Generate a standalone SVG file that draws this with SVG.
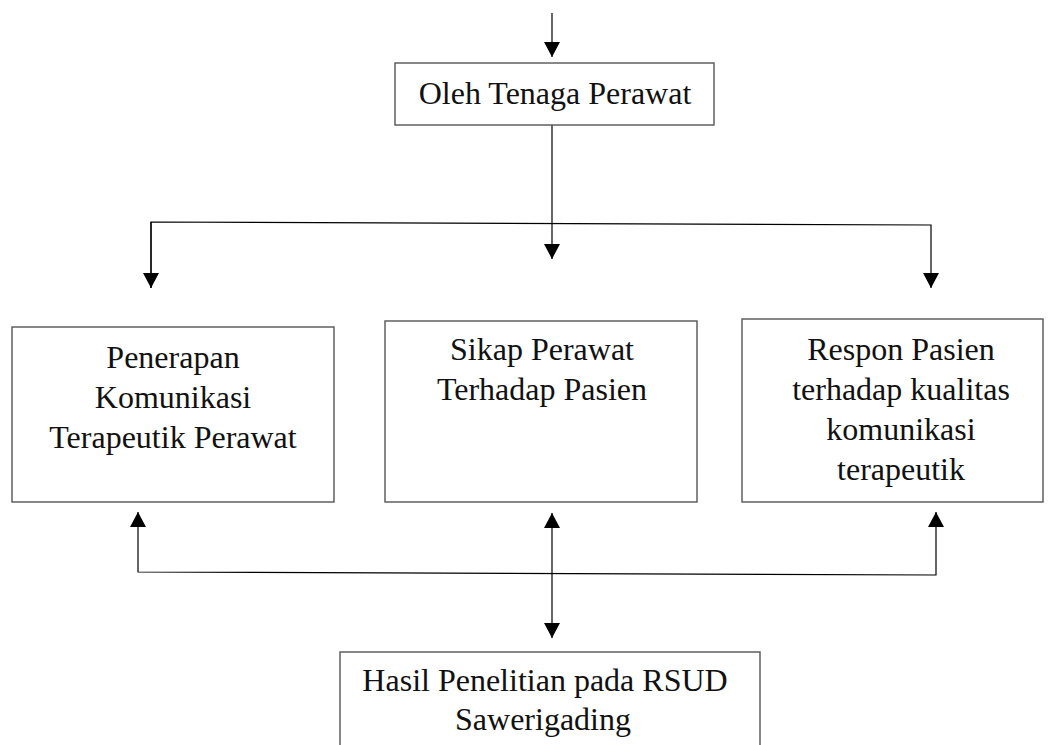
<svg xmlns="http://www.w3.org/2000/svg" width="1056" height="745" viewBox="0 0 1056 745">
<defs>
<marker id="ah" viewBox="0 0 15 16" refX="15" refY="8" markerWidth="15" markerHeight="16" markerUnits="userSpaceOnUse" orient="auto-start-reverse">
<path d="M0,0 L15,8 L0,16 Z" fill="#000"/>
</marker>
<style>
.box{fill:#fff;stroke:#555;stroke-width:1.4}
.t{font-family:"Liberation Serif","Times New Roman",serif;font-size:32px;fill:#111;text-anchor:middle}
.c{fill:none;stroke:#000;stroke-width:1.2}
.a{marker-end:url(#ah)}
.ab{marker-start:url(#ah);marker-end:url(#ah)}
</style>
</defs>
<rect width="1056" height="745" fill="#fff"/>
<g id="connectors">
<line class="c a" x1="552" y1="13" x2="552" y2="57"/>
<line class="c a" x1="552" y1="125" x2="552" y2="259"/>
<polyline class="c" points="151,288 151,222 931,225 931,288" marker-end="url(#ah)"/>
<line class="c a" x1="151" y1="222" x2="151" y2="288"/>
<polyline class="c" points="138,512 138,572 936,575 936,512" marker-start="url(#ah)" marker-end="url(#ah)"/>
<line class="c ab" x1="552" y1="513" x2="552" y2="638"/>
</g>
<g id="node-oleh">
<rect class="box" x="395" y="63" width="319" height="62"/>
<text class="t" x="555" y="104">Oleh Tenaga Perawat</text>
</g>
<g id="node-penerapan">
<rect class="box" x="12" y="327" width="322" height="175"/>
<text class="t" x="173" y="368">Penerapan</text>
<text class="t" x="173" y="408">Komunikasi</text>
<text class="t" x="173" y="448">Terapeutik Perawat</text>
</g>
<g id="node-sikap">
<rect class="box" x="385" y="321" width="312" height="181"/>
<text class="t" x="542" y="360">Sikap Perawat</text>
<text class="t" x="542" y="400">Terhadap Pasien</text>
</g>
<g id="node-respon">
<rect class="box" x="742" y="319" width="301" height="183"/>
<text class="t" x="901" y="360">Respon Pasien</text>
<text class="t" x="901" y="400">terhadap kualitas</text>
<text class="t" x="901" y="440">komunikasi</text>
<text class="t" x="901" y="480">terapeutik</text>
</g>
<g id="node-hasil">
<rect class="box" x="340" y="652" width="420" height="120"/>
<text class="t" x="545" y="691">Hasil Penelitian pada RSUD</text>
<text class="t" x="543" y="730">Sawerigading</text>
</g>
</svg>
